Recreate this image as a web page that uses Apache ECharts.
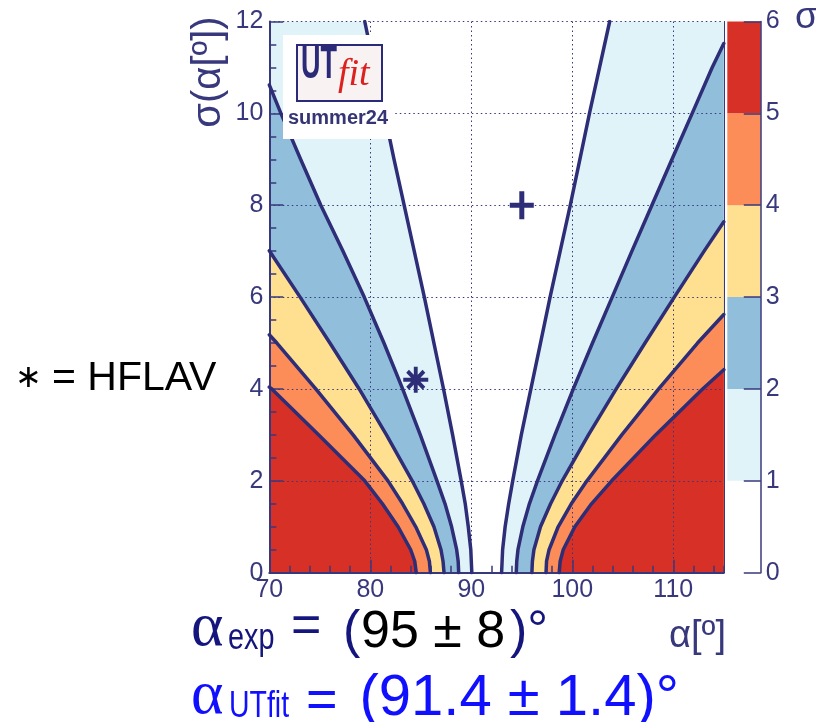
<!DOCTYPE html>
<html><head><meta charset="utf-8">
<script src="https://cdn.jsdelivr.net/npm/echarts@6/dist/echarts.min.js"></script>
<style>html,body{margin:0;padding:0;background:#fff}#c{width:816px;height:722px}</style>
</head><body><div id="c"></div>
<script>
// ---- data ----
const xTickLabels = [70, 80, 90, 100, 110];
const yTickLabels = [0, 2, 4, 6, 8, 10, 12];
const colorbarTickLabels = [0, 1, 2, 3, 4, 5, 6];
const colorbarBands = [[0, 1], [1, 2], [2, 3], [3, 4], [4, 5], [5, 6]];
const contourLevels = [1, 2, 3, 4, 5];

// contour curves [alpha, sigma(alpha)], left branch (from bottom upward)
const left1 = [[90.05,0],[90.0,0.25],[89.95,0.5],[89.7,1],[89.4,1.5],[89.0,2],[88.15,3],[87.25,4],[86.3,5],[85.35,6],[84.35,7],[83.35,8],[82.35,9],[81.4,10],[80.4,11],[79.45,12]];
const left2 = [[88.75,0],[88.7,0.25],[88.55,0.5],[88.05,1],[87.4,1.5],[86.6,2],[84.95,3],[83.2,4],[81.35,5],[79.4,6],[77.3,7],[75.1,8],[73.1,9],[71.15,10],[70,10.62]];
const left3 = [[87.3,0],[87.2,0.25],[87.0,0.5],[86.3,1],[85.3,1.5],[84.15,2],[81.6,3],[78.9,4],[76.0,5],[73.05,6],[70,7.01]];
const left4 = [[85.95,0],[85.85,0.25],[85.55,0.5],[84.5,1],[83.2,1.5],[81.75,2],[78.3,3],[74.6,4],[70.75,5],[70,5.18]];
const left5 = [[84.55,0],[84.4,0.25],[84.0,0.5],[82.75,1],[81.2,1.5],[79.45,2],[74.9,3],[70.25,4],[70,4.04]];
// right branch (from bottom upward)
const right1 = [[93.0,0],[93.05,0.25],[93.1,0.5],[93.35,1],[93.7,1.5],[94.1,2],[94.95,3],[95.9,4],[96.85,5],[97.8,6],[98.8,7],[99.8,8],[100.75,9],[101.7,10],[102.7,11],[103.7,12]];
const right2 = [[94.45,0],[94.5,0.25],[94.62,0.5],[95.1,1],[95.75,1.5],[96.55,2],[98.28,3],[100.1,4],[102.0,5],[103.95,6],[105.9,7],[107.88,8],[109.87,9],[111.87,10],[113.85,11],[115,11.52]];
const right3 = [[96.0,0],[96.05,0.25],[96.2,0.5],[96.85,1],[97.85,1.5],[99.0,2],[101.6,3],[104.35,4],[107.2,5],[110.1,6],[113.05,7],[115,7.64]];
const right4 = [[97.4,0],[97.45,0.25],[97.7,0.5],[98.6,1],[99.9,1.5],[101.45,2],[104.9,3],[108.55,4],[112.4,5],[115,5.62]];
const right5 = [[98.7,0],[98.8,0.25],[99.1,0.5],[100.25,1],[101.9,1.5],[103.9,2],[108.25,3],[112.9,4],[115,4.42]];

const plusMarker = [[95, 8]];
const hflavMarker = [[84.5, 4.2]];

// ---- styling ----
const X_MIN = 70, X_MAX = 115, Y_MIN = 0, Y_MAX = 12;
const NAVY = '#38387c';
const LINE = '#2e2e78';
const levelColors = ['#e0f3f8', '#91bfdb', '#fee090', '#fc8d59', '#d73027'];
const bandColors = ['#ffffff', '#e0f3f8', '#91bfdb', '#fee090', '#fc8d59', '#d73027'];
const FONT = 'Liberation Sans';

const lefts = [left1, left2, left3, left4, left5];
const rights = [right1, right2, right3, right4, right5];

function leftFill(c) {
  const pts = c.slice().reverse();
  if (pts[0][1] >= Y_MAX) pts.unshift([X_MIN, Y_MAX]);
  return pts;
}
function rightFill(c) {
  const pts = c.slice();
  if (pts[pts.length - 1][1] >= Y_MAX) pts.push([X_MAX, Y_MAX]);
  return pts;
}

const series = [];
contourLevels.forEach((lvl, i) => {
  [leftFill(lefts[i]), rightFill(rights[i])].forEach(d => {
    series.push({
      type: 'line', xAxisIndex: 0, yAxisIndex: 0, data: d, z: 1,
      showSymbol: false, symbol: 'none', silent: true, animation: false,
      lineStyle: { opacity: 0, width: 1 },
      areaStyle: { color: levelColors[i], opacity: 1 }
    });
  });
});
lefts.concat(rights).forEach(c => {
  series.push({
    type: 'line', xAxisIndex: 0, yAxisIndex: 0, data: c, z: 5,
    showSymbol: false, symbol: 'none', silent: true, animation: false,
    lineStyle: { color: LINE, width: 3.5, join: 'round', cap: 'round' }
  });
});
series.push({
  type: 'scatter', xAxisIndex: 0, yAxisIndex: 0, data: plusMarker, z: 6, animation: false, silent: true,
  symbol: 'path://M9.5,0H14.5V11.5H24V16.5H14.5V28H9.5V16.5H0V11.5H9.5Z',
  symbolSize: [24, 28], itemStyle: { color: LINE, opacity: 1 }
});
series.push({
  type: 'scatter', xAxisIndex: 0, yAxisIndex: 0, data: hflavMarker, z: 6, animation: false, silent: true,
  symbol: 'path://M11,0H15V26H11Z M0,11H26V15H0Z M5.91,3.09L22.91,20.09L20.09,22.91L3.09,5.91Z M22.91,5.91L5.91,22.91L3.09,20.09L20.09,3.09Z',
  symbolSize: [25, 26], itemStyle: { color: LINE, opacity: 1 }
});
series.push({
  type: 'custom', xAxisIndex: 2, yAxisIndex: 2, data: colorbarBands, z: 1, animation: false, silent: true,
  renderItem: function (params, api) {
    const lo = api.value(0), hi = api.value(1);
    const p1 = api.coord([0, hi]);
    const p2 = api.coord([1, lo]);
    return { type: 'rect', shape: { x: p1[0], y: p1[1], width: p2[0] - p1[0], height: p2[1] - p1[1] },
             style: { fill: bandColors[params.dataIndex] } };
  }
});

function txt(x, y, text, size, color, extra) {
  const o = Object.assign({ type: 'text', x: x, y: y, z: 200 }, extra || {});
  o.style = Object.assign({ text: text, fontSize: size, fontFamily: FONT, fill: color,
      align: 'left', textAlign: 'left', verticalAlign: 'middle', textVerticalAlign: 'middle' }, (extra && extra.style) || {});
  return o;
}

const BLUE = '#1010ff';
const DNAVY = '#15157e';
const graphics = [
  // UTfit logo box
  { type: 'rect', z: 150, shape: { x: 283, y: 35, width: 111, height: 104 }, style: { fill: '#ffffff' } },
  { type: 'rect', z: 151, shape: { x: 297, y: 45, width: 85, height: 56 }, style: { fill: '#f8f2f2', stroke: '#2a2a78', lineWidth: 2 } },
  txt(301, 42, 'UT', 27, '#2a2a78', { scaleY: 1.7, style: { fontWeight: 'bold', verticalAlign: 'top', textVerticalAlign: 'top' } }),
  txt(338, 75, 'fit', 38, '#dd2020', { style: { fontFamily: 'Liberation Serif', fontStyle: 'italic' } }),
  txt(288, 118, 'summer24', 20, '#353575', { style: { fontWeight: 'bold' } }),
  // HFLAV note
  txt(15, 378, '∗', 32, '#000000'),
  txt(52, 379, '= HFLAV', 41, '#000000'),
  // axis titles
  txt(209, 72, 'σ(α[º])', 40, NAVY, { rotation: Math.PI / 2, style: { align: 'center', textAlign: 'center' } }),
  txt(726, 637, 'α[º]', 38, NAVY, { style: { align: 'right', textAlign: 'right' } }),
  txt(795, 18, 'σ', 37, NAVY),
  // alpha_exp line
  txt(191, 629, 'α', 62, DNAVY, { style: { fontFamily: 'Liberation Serif' } }),
  txt(228, 639.5, 'exp', 36, DNAVY, { scaleX: 0.8 }),
  txt(291, 628, '=', 52, DNAVY),
  txt(343, 633, '(', 52, DNAVY),
  txt(361, 633, '95 ± 8', 52, '#000000'),
  txt(510, 633, ')°', 52, DNAVY),
  // alpha_UTfit line
  txt(191, 697, 'α', 62, BLUE, { style: { fontFamily: 'Liberation Serif' } }),
  txt(229, 707.5, 'UTfit', 36, BLUE, { scaleX: 0.79 }),
  txt(306, 702, '=', 54, BLUE),
  txt(359.5, 699, '(91.4 ± 1.4)°', 58, BLUE)
];

const axisLabelStyle = { color: NAVY, fontSize: 25, fontFamily: FONT };
const option = {
  backgroundColor: '#ffffff',
  animation: false,
  grid: [
    { left: 269.3, top: 21.5, width: 454.5, height: 551.2, containLabel: false },
    { left: 727.3, top: 21.5, width: 33.5, height: 551.2, containLabel: false }
  ],
  xAxis: [
    { gridIndex: 0, type: 'value', min: X_MIN, max: X_MAX, interval: 10, position: 'bottom', z: 3,
      axisLine: { show: true, onZero: false, lineStyle: { color: NAVY, width: 2 } },
      axisTick: { show: true, inside: true, length: 13, lineStyle: { color: NAVY, width: 1.5 } },
      axisLabel: Object.assign({ margin: 5, showMaxLabel: false,
        formatter: v => xTickLabels.indexOf(v) >= 0 ? String(v) : '' }, axisLabelStyle),
      splitLine: { show: true, lineStyle: { color: NAVY, width: 1, type: [1.5, 3] } } },
    { gridIndex: 0, type: 'value', min: X_MIN, max: X_MAX, interval: 2, position: 'bottom', z: 3,
      axisLine: { show: false, onZero: false },
      axisTick: { show: true, inside: true, length: 7, lineStyle: { color: NAVY, width: 1.5 } },
      axisLabel: { show: false }, splitLine: { show: false } },
    { gridIndex: 1, type: 'value', min: 0, max: 1, show: false }
  ],
  yAxis: [
    { gridIndex: 0, type: 'value', min: Y_MIN, max: Y_MAX, interval: 2, position: 'left', z: 3,
      axisLine: { show: true, onZero: false, lineStyle: { color: NAVY, width: 2 } },
      axisTick: { show: true, inside: true, length: 14, lineStyle: { color: NAVY, width: 1.5 } },
      minorTick: { show: true, splitNumber: 4, length: 7, lineStyle: { color: NAVY, width: 1.5 } },
      axisLabel: Object.assign({ margin: 6, formatter: v => yTickLabels.indexOf(v) >= 0 ? String(v) : '' }, axisLabelStyle),
      splitLine: { show: true, lineStyle: { color: NAVY, width: 1, type: [1.5, 3] } } },
    { gridIndex: 0, type: 'value', min: Y_MIN, max: Y_MAX, position: 'right', z: 3,
      axisLine: { show: true, onZero: false, lineStyle: { color: NAVY, width: 1 } },
      axisTick: { show: false }, axisLabel: { show: false }, splitLine: { show: false } },
    { gridIndex: 1, type: 'value', min: 0, max: 6, interval: 1, position: 'right', z: 3,
      axisLine: { show: true, onZero: false, lineStyle: { color: NAVY, width: 1.5 } },
      axisTick: { show: true, inside: true, length: 17, lineStyle: { color: NAVY, width: 1.5 } },
      axisLabel: Object.assign({ margin: 5, formatter: v => colorbarTickLabels.indexOf(v) >= 0 ? String(v) : '' }, axisLabelStyle),
      splitLine: { show: false } }
  ],
  series: series,
  graphic: graphics
};
const chart = echarts.init(document.getElementById('c'), null, { renderer: 'canvas' });
chart.setOption(option);
</script>
</body></html>
